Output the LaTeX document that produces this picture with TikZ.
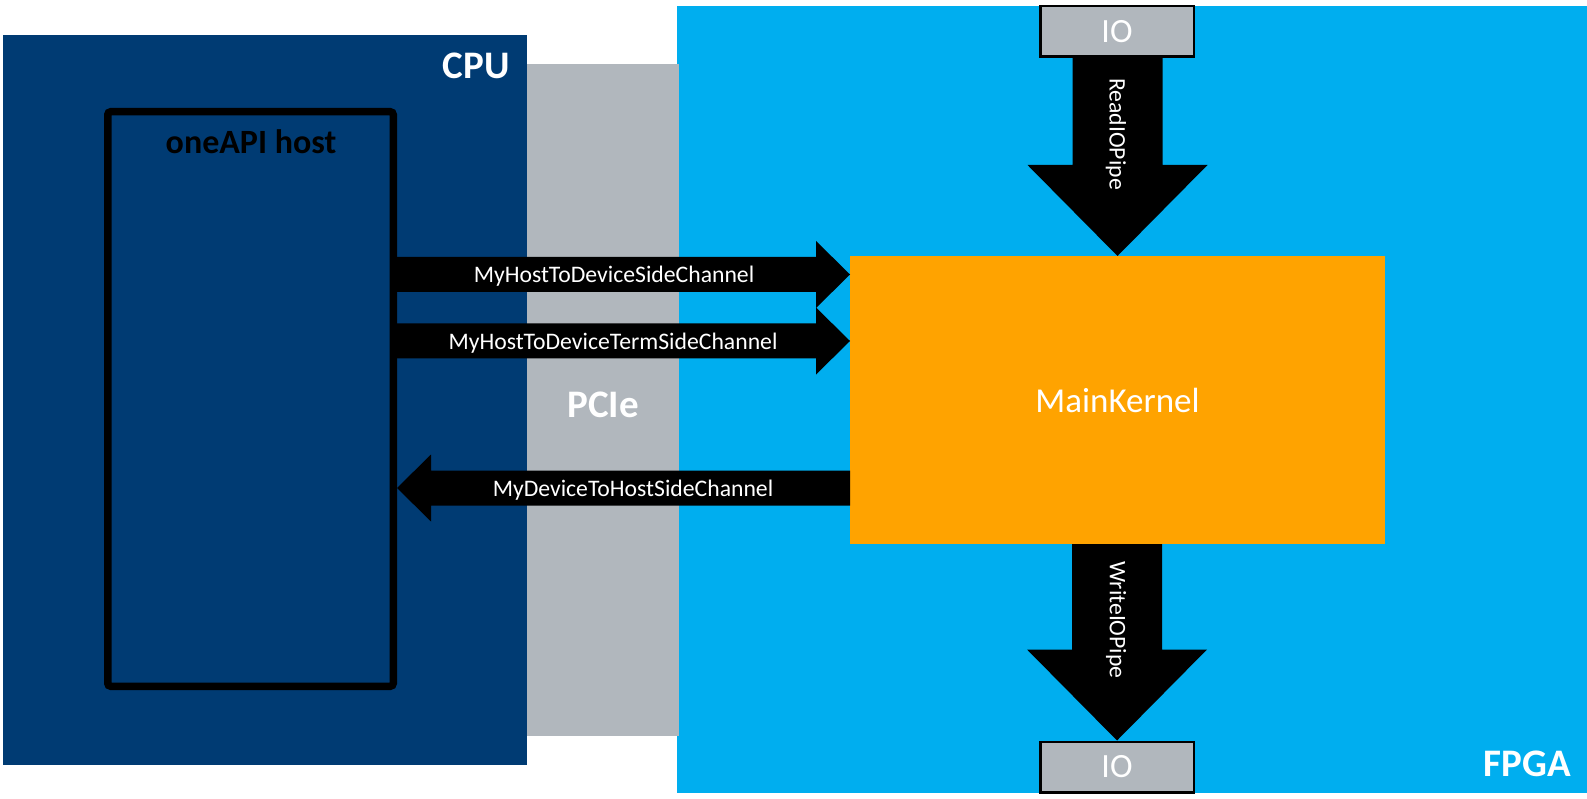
\documentclass[tikz,border=0pt]{standalone}
\usepackage{fontspec}
\setmainfont{Carlito}
\usetikzlibrary{calc}
\definecolor{cpuc}{RGB}{0,59,115}
\definecolor{fpgac}{RGB}{0,174,239}
\definecolor{pciec}{RGB}{177,183,189}
\definecolor{kernc}{RGB}{255,163,0}
\newcommand\myRightArrow[2]{%
  \fill[blockarrow] let \p1=(#1), \p2=(#2) in
    (\x1,\y2+17.5pt) -- (\x2-34pt,\y2+17.5pt) -- (\x2-34pt,\y2+33.5pt) -- (\p2)
    -- (\x2-34pt,\y2-33.5pt) -- (\x2-34pt,\y2-17.5pt) -- (\x1,\y2-17.5pt) -- cycle;}
\newcommand\myLeftArrow[2]{%
  \fill[blockarrow] let \p1=(#1), \p2=(#2) in
    (\x1,\y2+17.5pt) -- (\x2+34pt,\y2+17.5pt) -- (\x2+34pt,\y2+33.5pt) -- (\p2)
    -- (\x2+34pt,\y2-33.5pt) -- (\x2+34pt,\y2-17.5pt) -- (\x1,\y2-17.5pt) -- cycle;}
\newcommand\myDownArrow[2]{%
  \fill[blockarrow] let \p1=(#1), \p2=(#2) in
    (\x2-45pt,\y1) -- (\x2-45pt,\y2+91pt) -- (\x2-90pt,\y2+91pt) -- (\p2)
    -- (\x2+90pt,\y2+91pt) -- (\x2+45pt,\y2+91pt) -- (\x2+45pt,\y1) -- cycle;}
\begin{document}
\begin{tikzpicture}[x=1pt,y=-1pt,
  region/.style={inner sep=0pt, outer sep=0pt, anchor=north west},
  blockarrow/.style={fill=black},
  title/.style={text=white, font=\fontsize{39}{44}\selectfont\bfseries, inner sep=0pt},
  chlabel/.style={text=white, font=\fontsize{23.7}{28}\selectfont, inner sep=0pt},
  iobox/.style={draw=black, line width=2.5pt, fill=pciec, text=white,
    minimum width=153.5pt, minimum height=50.5pt, inner sep=0pt,
    font=\fontsize{34}{40}\selectfont}]
\useasboundingbox (0,0) rectangle (1587,799);
% regions
\node[region, fill=fpgac, minimum width=910pt, minimum height=787pt] (fpga) at (677,6) {};
\node[region, fill=pciec, minimum width=152pt, minimum height=672pt] (pcie) at (527,64) {};
\node[region, fill=cpuc, minimum width=524pt, minimum height=730pt] (cpu) at (3,35) {};
\node[draw=black, line width=7.5pt, rounded corners=3pt, inner sep=0pt,
      minimum width=285.5pt, minimum height=574.5pt] (host) at (250.5,399) {};
% kernel
\node[fill=kernc, inner sep=0pt, outer sep=0pt, minimum width=535pt, minimum height=288pt,
      text=white, font=\fontsize{35}{40}\selectfont] (kernel) at (1117.5,400) {MainKernel};
% IO boxes
\node[iobox] (ioTop) at (1117,31.5) {IO};
\node[iobox] (ioBot) at (1117,767) {IO};
% titles
\node[title, anchor=base east] (cputitle) at (510,79) {CPU};
\node[title, anchor=base] (pcietitle) at (603,417) {PCIe};
\node[title, anchor=base east] (fpgatitle) at (1571,776) {FPGA};
\node[inner sep=0pt, anchor=base, font=\fontsize{34}{40}\selectfont\bfseries] (hosttitle) at (251,154) {oneAPI host};
% connectors
\coordinate (t1) at (kernel.west |- 0,274.5);
\coordinate (t2) at (kernel.west |- 0,341);
\coordinate (s3) at (kernel.west |- 0,488);
\coordinate (t3) at (host.east |- 0,488);
\myRightArrow{host.east}{t1}
\myRightArrow{host.east}{t2}
\myLeftArrow{s3}{t3}
\myDownArrow{ioTop.south}{kernel.north}
\myDownArrow{kernel.south}{ioBot.north}
% redraw IO boxes on top of arrow shafts
\node[iobox] at (ioTop) {IO};
% labels
\node[chlabel, anchor=base] (l1) at (614,282.5) {MyHostToDeviceSideChannel};
\node[chlabel, anchor=base] (l2) at (613,349) {MyHostToDeviceTermSideChannel};
\node[chlabel, anchor=base] (l3) at (633,496) {MyDeviceToHostSideChannel};
\node[chlabel, rotate=-90] (l4) at (1116,134) {ReadIOPipe};
\node[chlabel, rotate=-90] (l5) at (1116,620) {WriteIOPipe};
\end{tikzpicture}
\end{document}
